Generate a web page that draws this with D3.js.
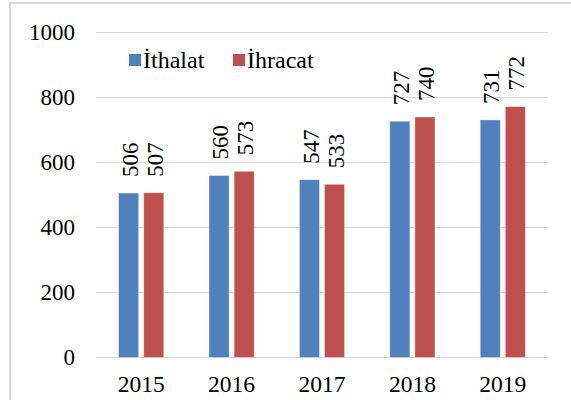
<body style="margin:0">
    <script src="https://d3js.org/d3.v7.min.js"></script>
    <svg id="chart" width="571" height="400"></svg>
    <script>
        // data
        const years = ["2015", "2016", "2017", "2018", "2019"];
        const ithalat = [506, 560, 547, 727, 731];
        const ihracat = [507, 573, 533, 740, 772];
        const seriesNames = ["İthalat", "İhracat"];
        const colors = ["#4F81BD", "#C0504D"];
        const yTicks = [0, 200, 400, 600, 800, 1000];

        const svg = d3.select("#chart");
        const font = "'Liberation Serif', 'Times New Roman', serif";

        // chart border
        svg.append("rect")
            .attr("x", 10).attr("y", 3)
            .attr("width", 580).attr("height", 420)
            .attr("fill", "#fff")
            .attr("stroke", "#d9d9d9")
            .attr("stroke-width", 2);

        const plotLeft = 96, plotRight = 548, plotTop = 32.5, plotBottom = 357.5;

        const x0 = d3.scaleBand().domain(years).range([plotLeft, plotRight])
            .paddingInner(0.5).paddingOuter(0.25);
        const x1 = d3.scaleBand().domain(seriesNames).range([0, x0.bandwidth()])
            .paddingInner(0.2);
        const y = d3.scaleLinear().domain([0, 1000]).range([plotBottom, plotTop]);

        // gridlines
        svg.append("g")
            .selectAll("line")
            .data(yTicks)
            .join("line")
                .attr("x1", plotLeft).attr("x2", plotRight)
                .attr("y1", d => y(d)).attr("y2", d => y(d))
                .attr("stroke", "#d9d9d9")
                .attr("stroke-width", 1);

        // y tick labels
        svg.append("g")
            .selectAll("text")
            .data(yTicks)
            .join("text")
                .attr("x", 75)
                .attr("y", d => y(d))
                .attr("dy", "0.33em")
                .attr("text-anchor", "end")
                .style("font-family", font)
                .style("font-size", "23px")
                .attr("fill", "#000")
                .text(d => d);

        // x labels
        svg.append("g")
            .selectAll("text")
            .data(years)
            .join("text")
                .attr("x", d => x0(d) + x0.bandwidth() / 2)
                .attr("y", 392)
                .attr("text-anchor", "middle")
                .style("font-family", font)
                .style("font-size", "23.5px")
                .attr("fill", "#000")
                .text(d => d);

        const rows = years.map((yr, i) => ({year: yr, values: [ithalat[i], ihracat[i]]}));

        const groups = svg.append("g")
            .selectAll("g")
            .data(rows)
            .join("g")
                .attr("transform", d => `translate(${x0(d.year)},0)`);

        groups.selectAll("rect")
            .data(d => d.values.map((v, j) => ({name: seriesNames[j], value: v, c: colors[j]})))
            .join("rect")
                .attr("x", d => x1(d.name))
                .attr("y", d => y(d.value))
                .attr("width", x1.bandwidth())
                .attr("height", d => y(0) - y(d.value))
                .attr("fill", d => d.c)
                .attr("stroke", "#fff")
                .attr("stroke-opacity", 0.5)
                .attr("stroke-width", 0.8);

        // rotated value labels
        groups.selectAll("text")
            .data(d => d.values.map((v, j) => ({name: seriesNames[j], value: v})))
            .join("text")
                .attr("transform", d => `translate(${x1(d.name) + x1.bandwidth() / 2 + 1},${y(d.value) - 16}) rotate(-90)`)
                .attr("dy", "0.35em")
                .attr("text-anchor", "start")
                .style("font-family", font)
                .style("font-size", "23px")
                .attr("fill", "#000")
                .text(d => d.value);

        // legend
        const legendX = [129, 233];
        const legend = svg.append("g")
            .selectAll("g")
            .data(seriesNames)
            .join("g")
                .attr("transform", (d, i) => `translate(${legendX[i]},54)`);
        legend.append("rect")
            .attr("width", 12).attr("height", 12)
            .attr("fill", (d, i) => colors[i]);
        legend.append("text")
            .attr("x", 14).attr("y", 13.5)
            .style("font-family", font)
            .style("font-size", "24px")
            .attr("fill", "#000")
            .text(d => d);
    </script>
</body>
